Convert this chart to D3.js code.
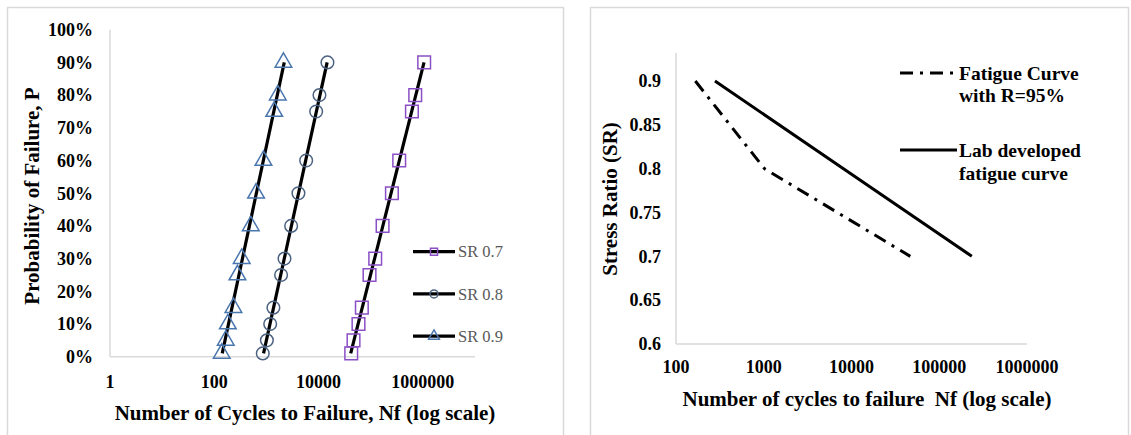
<!DOCTYPE html>
<html>
<head>
<meta charset="utf-8">
<script src="https://cdn.jsdelivr.net/npm/d3@7"></script>
<style>
  body { margin: 0; background: #fff; }
  svg text { font-family: "Liberation Serif", "Times New Roman", serif; }
  .tick-label { font-weight: bold; font-size: 18px; fill: #000; }
  .axis-title { font-weight: bold; font-size: 21px; fill: #000; }
  .legend-title { font-weight: bold; font-size: 19.5px; fill: #000; }
</style>
</head>
<body>
<svg id="chart" width="1131" height="435"></svg>
<script>
// ---- left panel data: probability of failure vs cycles ----
var probs = [0.01, 0.05, 0.10, 0.15, 0.25, 0.30, 0.40, 0.50, 0.60, 0.75, 0.80, 0.90];
var cyclesSR07 = [42300, 46800, 58300, 67600, 94900, 122000, 169000, 255000, 352000, 617000, 714000, 1060000];
var cyclesSR08 = [851, 1020, 1180, 1360, 1910, 2220, 2980, 4110, 5780, 8990, 10400, 14800];
var cyclesSR09 = [139, 166, 182, 233, 278, 336, 501, 633, 877, 1410, 1650, 2120];
var seriesNames = ["SR 0.7", "SR 0.8", "SR 0.9"];
var leftXTicks = [1, 100, 10000, 1000000];
var leftYTicks = [0, 0.1, 0.2, 0.3, 0.4, 0.5, 0.6, 0.7, 0.8, 0.9, 1.0];

// ---- right panel data: stress ratio vs cycles ----
var stressRatios = [0.9, 0.8, 0.7];
var cyclesR95 = [166, 1020, 46800];
var cyclesLab = [278, 8100, 235000];
var rightXTicks = [100, 1000, 10000, 100000, 1000000];
var rightYTicks = [0.6, 0.65, 0.7, 0.75, 0.8, 0.85, 0.9];

var svg = d3.select("#chart");
var axisGrey = "#d9d9d9";

// panel frames
svg.append("rect").attr("x", 7.5).attr("y", 7.5).attr("width", 556).attr("height", 440)
    .attr("fill", "none").attr("stroke", axisGrey).attr("stroke-width", 1.5);
svg.append("rect").attr("x", 590.5).attr("y", 7.5).attr("width", 538).attr("height", 440)
    .attr("fill", "none").attr("stroke", axisGrey).attr("stroke-width", 1.5);

// ================= LEFT =================
var xL = d3.scaleLog().domain([1, 1e7]).range([110, 475]);
var yL = d3.scaleLinear().domain([0, 1]).range([356.7, 29.7]);

var gL = svg.append("g");
gL.append("line").attr("x1", xL(1)).attr("x2", xL(1)).attr("y1", yL(0)).attr("y2", yL(1))
    .attr("stroke", axisGrey).attr("stroke-width", 1.5);
gL.append("line").attr("x1", xL(1)).attr("x2", xL(1e7)).attr("y1", yL(0)).attr("y2", yL(0))
    .attr("stroke", axisGrey).attr("stroke-width", 1.5);

gL.selectAll("text.ytick").data(leftYTicks).enter().append("text")
    .attr("class", "tick-label")
    .attr("x", 93).attr("y", d => yL(d)).attr("dy", "0.35em")
    .attr("text-anchor", "end")
    .text(d => d3.format(".0%")(d));

gL.selectAll("text.xtick").data(leftXTicks).enter().append("text")
    .attr("class", "tick-label")
    .attr("x", d => xL(d)).attr("y", 382).attr("dy", "0.35em")
    .attr("text-anchor", "middle")
    .text(d => String(d));

gL.append("text").attr("class", "axis-title")
    .attr("x", 305).attr("y", 413).attr("dy", "0.35em").attr("text-anchor", "middle")
    .text("Number of Cycles to Failure, Nf (log scale)");
gL.append("text").attr("class", "axis-title")
    .attr("transform", "translate(32,196) rotate(-90)")
    .attr("dy", "0.35em").attr("text-anchor", "middle")
    .text("Probability of Failure, P");

var series = [
  {name: seriesNames[0], cycles: cyclesSR07, shape: "square",   color: "#8A4FC6"},
  {name: seriesNames[1], cycles: cyclesSR08, shape: "circle",   color: "#4B6282"},
  {name: seriesNames[2], cycles: cyclesSR09, shape: "triangle", color: "#4A76AE"}
];

// fit log10(N) = a + b*P and draw it over the data range
function fit(cycles) {
  let xs = probs, ys = cycles.map(c => Math.log10(c));
  let mx = d3.mean(xs), my = d3.mean(ys);
  let b = d3.sum(xs, (x, i) => (x - mx) * (ys[i] - my)) / d3.sum(xs, x => (x - mx) * (x - mx));
  let a = my - b * mx;
  let pMin = d3.min(xs), pMax = d3.max(xs);
  return [[Math.pow(10, a + b * pMin), pMin], [Math.pow(10, a + b * pMax), pMax]];
}

function symbolPath(shape, size) {
  let type = shape === "square" ? d3.symbolSquare : shape === "circle" ? d3.symbolCircle : d3.symbolTriangle;
  return d3.symbol().type(type).size(size)();
}

var lineL = d3.line().x(d => xL(d[0])).y(d => yL(d[1]));

series.forEach(function(s) {
  gL.append("path").attr("d", lineL(fit(s.cycles)))
      .attr("fill", "none").attr("stroke", "#000").attr("stroke-width", 3.2);
});
series.forEach(function(s) {
  let size = s.shape === "triangle" ? 120 : s.shape === "circle" ? 125 : 160;
  gL.selectAll(null).data(s.cycles).enter().append("path")
      .attr("d", symbolPath(s.shape, size))
      .attr("transform", (d, i) => "translate(" + xL(d) + "," + yL(probs[i]) + ")")
      .attr("fill", "none").attr("stroke", s.color).attr("stroke-width", 1.5);
});

// legend
var legL = gL.append("g");
series.forEach(function(s, i) {
  let y = 251.7 + i * 42.2;
  legL.append("line").attr("x1", 413).attr("x2", 455).attr("y1", y).attr("y2", y)
      .attr("stroke", "#000").attr("stroke-width", 3.2);
  legL.append("path").attr("d", symbolPath(s.shape, 50))
      .attr("transform", "translate(434," + y + ")")
      .attr("fill", "none").attr("stroke", s.color).attr("stroke-width", 1.5);
  legL.append("text").attr("x", 458).attr("y", y).attr("dy", "0.35em")
      .attr("font-size", "16.5px").attr("fill", "#595959").text(s.name);
});

// ================= RIGHT =================
var xR = d3.scaleLog().domain([100, 1e6]).range([676, 1027]);
var yR = d3.scaleLinear().domain([0.6, 0.932]).range([344, 53]);

var gR = svg.append("g");
gR.append("line").attr("x1", xR(100)).attr("x2", xR(100)).attr("y1", yR(0.6)).attr("y2", yR(0.932))
    .attr("stroke", axisGrey).attr("stroke-width", 1.5);
gR.append("line").attr("x1", xR(100)).attr("x2", xR(1e6)).attr("y1", yR(0.6)).attr("y2", yR(0.6))
    .attr("stroke", axisGrey).attr("stroke-width", 1.5);

gR.selectAll("text.ytick").data(rightYTicks).enter().append("text")
    .attr("class", "tick-label")
    .attr("x", 661).attr("y", d => yR(d)).attr("dy", "0.35em")
    .attr("text-anchor", "end")
    .text(d => String(d));

gR.selectAll("text.xtick").data(rightXTicks).enter().append("text")
    .attr("class", "tick-label")
    .attr("x", d => xR(d)).attr("y", 367).attr("dy", "0.35em")
    .attr("text-anchor", "middle")
    .text(d => String(d));

gR.append("text").attr("class", "axis-title")
    .attr("x", 867).attr("y", 399).attr("dy", "0.35em").attr("text-anchor", "middle")
    .attr("xml:space", "preserve")
    .text("Number of cycles to failure  Nf (log scale)");
gR.append("text").attr("class", "axis-title")
    .attr("transform", "translate(610,199) rotate(-90)")
    .attr("dy", "0.35em").attr("text-anchor", "middle")
    .text("Stress Ratio (SR)");

var lineR = d3.line().x(d => xR(d[0])).y(d => yR(d[1]));
var dashDot = "13,7,3,7";

gR.append("path").attr("d", lineR(cyclesR95.map((c, i) => [c, stressRatios[i]])))
    .attr("fill", "none").attr("stroke", "#000").attr("stroke-width", 3).attr("stroke-dasharray", dashDot);
gR.append("path").attr("d", lineR(cyclesLab.map((c, i) => [c, stressRatios[i]])))
    .attr("fill", "none").attr("stroke", "#000").attr("stroke-width", 3);

// legend
gR.append("line").attr("x1", 900).attr("x2", 957).attr("y1", 73).attr("y2", 73)
    .attr("stroke", "#000").attr("stroke-width", 3).attr("stroke-dasharray", dashDot);
gR.append("text").attr("class", "legend-title").attr("x", 959).attr("y", 73).attr("dy", "0.35em").text("Fatigue Curve");
gR.append("text").attr("class", "legend-title").attr("x", 959).attr("y", 95).attr("dy", "0.35em").text("with R=95%");
gR.append("line").attr("x1", 900).attr("x2", 957).attr("y1", 150).attr("y2", 150)
    .attr("stroke", "#000").attr("stroke-width", 3);
gR.append("text").attr("class", "legend-title").attr("x", 959).attr("y", 150).attr("dy", "0.35em").text("Lab developed");
gR.append("text").attr("class", "legend-title").attr("x", 959).attr("y", 173).attr("dy", "0.35em").text("fatigue curve");
</script>
</body>
</html>
